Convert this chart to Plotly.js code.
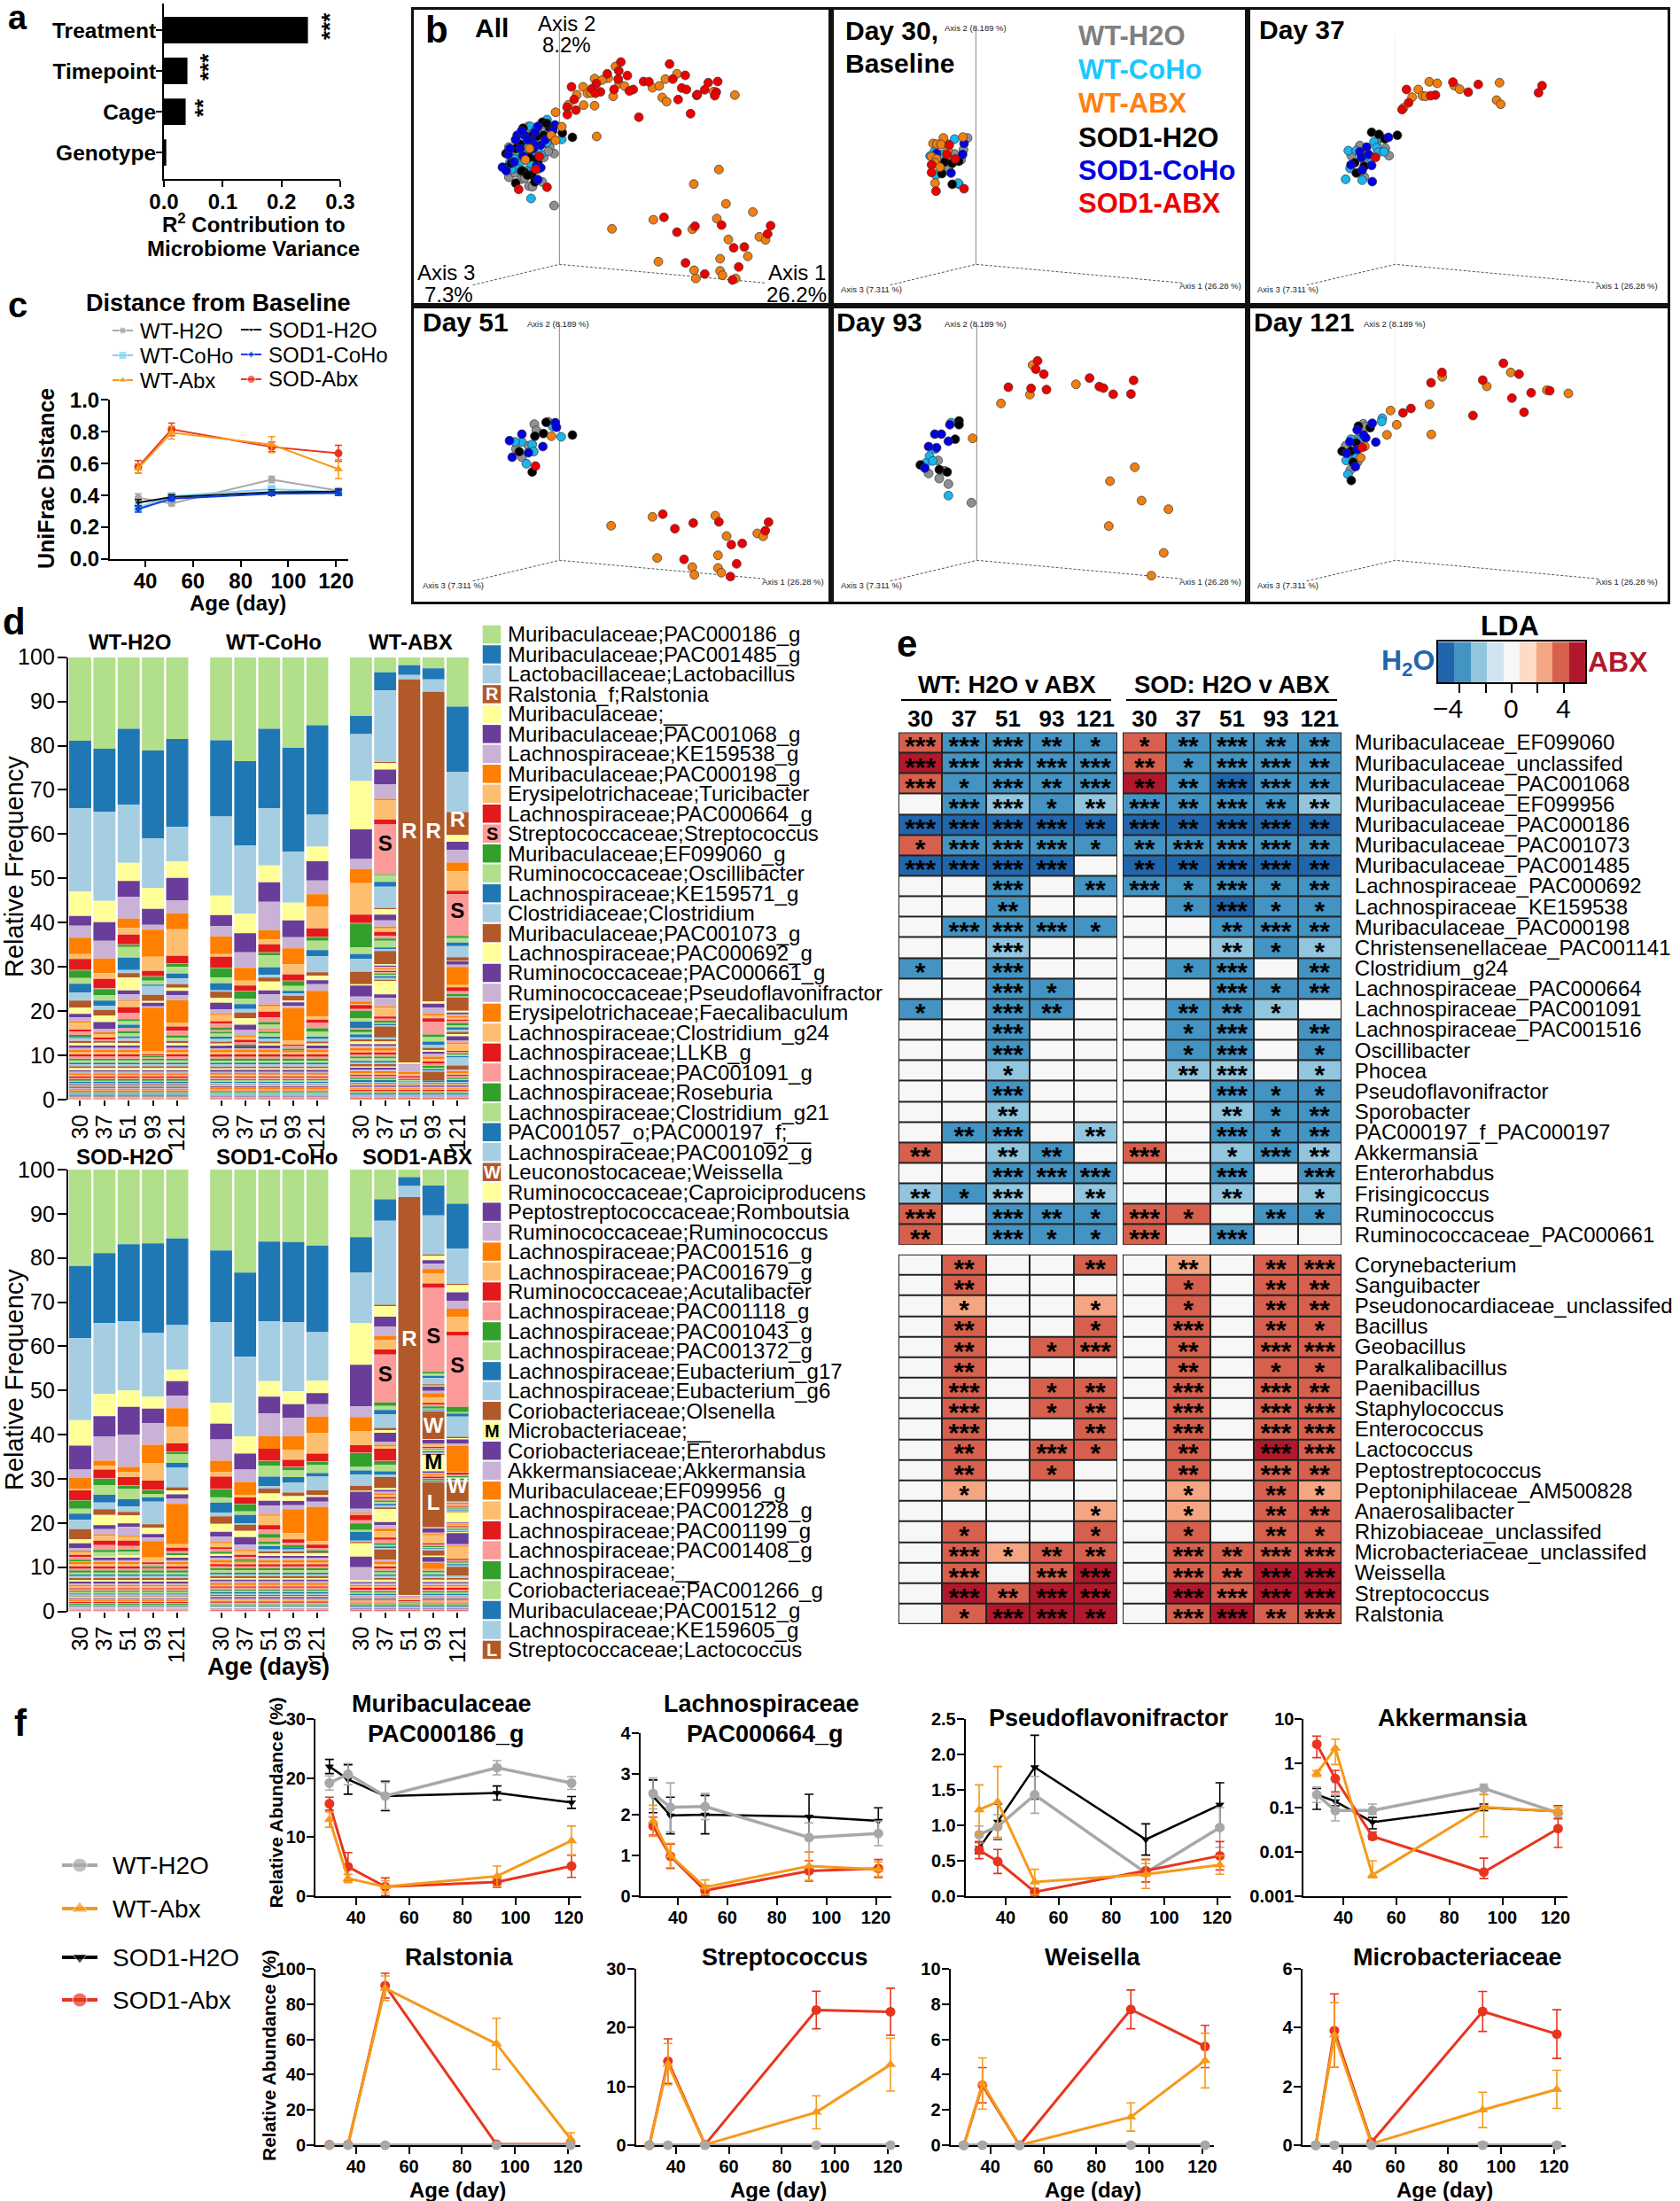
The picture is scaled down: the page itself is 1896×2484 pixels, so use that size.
<!DOCTYPE html>
<html><head><meta charset="utf-8">
<script src="https://cdn.plot.ly/plotly-3.0.1.min.js"></script>
<style>body{margin:0;background:#fff}</style></head>
<body><div id="g" style="width:1896px;height:2484px"></div>
<script>
// ---------- panel a ----------
const aCats=['Treatment','Timepoint','Cage','Genotype'];
const aVals=[0.245,0.040,0.037,0.004];
const aStars=['***','***','**'];
// ---------- panel c ----------
const cDays=[37,51,93,121];
const cWtH2O=[.385,.35,.50,.43], cWtH2OErr=[.025,.015,.02,.015];
const cWtCoHo=[.325,.395,.44,.42], cWtCoHoErr=[.025,.02,.02,.02];
const cWtAbx=[.57,.795,.72,.565], cWtAbxErr=[.03,.04,.05,.06];
const cSodH2O=[.355,.39,.42,.425], cSodH2OErr=[.02,.015,.015,.015];
const cSodCoHo=[.315,.38,.41,.415], cSodCoHoErr=[.02,.015,.01,.015];
const cSodAbx=[.58,.815,.705,.665], cSodAbxErr=[.04,.04,.03,.05];
// ---------- panel b (positions read in each cell's picture units) ----------
const bGroupNames=['WT-H2O','WT-CoHo','SOD1-H2O','SOD1-CoHo','WT-ABX','SOD1-ABX'];
const bColors=['#8f8f8f','#1ab4ef','#000000','#0000e0','#ee7f10','#ee0000'];
const bAll=[
 [[475,663],[475,487],[390,597],[402,599],[435,583],[322,567],[342,552],[365,573],[322,465],[460,465],[358,516],[440,500],[388,395],[450,395],[400,530],[350,500],[345,440],[380,420],[420,410],[455,440],[330,500],[385,500],[345,535],[375,570],[420,540],[455,480],[400,480]],
 [[397,639],[451,372],[501,439],[345,480],[325,518],[360,518],[385,480],[380,545],[430,425],[395,395],[430,490],[405,510],[340,505],[355,540],[390,455],[420,470],[450,450],[370,500],[410,410],[470,405],[330,540],[395,520]],
 [[537,432],[503,417],[312,487],[370,401],[435,381],[415,430],[360,455],[415,505],[375,550],[400,560],[345,587],[410,583],[310,535],[440,425],[330,520],[365,545],[385,560],[395,430],[420,520],[460,400],[390,500],[345,470],[450,385]],
 [[300,533],[313,545],[350,425],[375,425],[400,445],[430,458],[478,390],[420,395],[360,470],[320,490],[410,460],[415,530],[420,575],[470,410],[345,440],[365,410],[385,440],[405,470],[370,495],[395,475],[340,515],[445,440],[410,415],[325,470],[430,535]],
 [[683,192],[612,233],[658,232],[638,238],[573,261],[552,288],[588,283],[600,282],[675,293],[695,250],[714,259],[808,264],[831,258],[852,235],[891,217],[841,297],[856,311],[1015,277],[1087,289],[575,323],[612,325],[523,322],[480,347],[501,396],[619,429],[465,425],[480,442],[392,470],[378,508],[1033,541],[948,590],[1057,657],[1148,685],[811,711],[1026,707],[671,742],[943,743],[1170,769],[1191,779],[1065,778],[1131,835],[1037,843],[828,853],[949,882],[1037,884],[1045,899],[955,910],[1090,910]],
 [[701,177],[694,207],[655,217],[723,223],[692,235],[618,250],[534,261],[603,268],[678,270],[632,278],[615,283],[743,270],[730,275],[778,243],[796,244],[866,184],[919,222],[877,235],[907,265],[923,270],[997,247],[1029,243],[985,271],[1024,279],[1019,291],[958,290],[960,287],[895,304],[937,352],[762,364],[543,304],[519,330],[549,340],[520,355],[847,703],[952,733],[1042,729],[1208,731],[1198,759],[891,753],[1083,806],[1119,803],[920,857],[1100,871],[985,895],[1079,915],[413,540],[355,608],[451,601],[425,497]]
];
const bDay30=[
 [[462,434],[448,474],[440,508],[418,488],[398,510],[378,522],[432,590],[398,535]],
 [[418,438],[395,455],[335,495],[350,480],[355,560],[430,587],[372,490]],
 [[410,591],[375,555],[432,513],[385,515],[410,520]],
 [[450,453],[445,490],[357,487],[406,553]],
 [[380,434],[446,431],[345,453],[358,455],[372,456],[395,476],[340,497],[357,505],[352,518],[368,533],[352,587]],
 [[400,458],[340,525],[340,551],[355,614],[450,606],[420,505],[392,490]]
];
const bDay37=[
 [[380,460],[437,452],[466,469],[479,494],[351,494],[397,515],[395,566]],
 [[445,432],[428,448],[341,477],[368,477],[437,467],[442,483],[462,481],[415,500],[347,537],[332,574],[388,577]],
 [[420,415],[445,422],[465,437],[507,425],[363,518],[368,553],[395,530]],
 [[477,432],[403,465],[380,481],[385,500],[410,490],[420,527],[388,543],[422,582],[350,525]],
 [[615,244],[642,249],[578,270],[700,257],[718,269],[853,247],[843,306],[857,320],[557,296],[592,292],[603,293],[528,332]],
 [[695,245],[781,253],[747,279],[997,257],[985,281],[538,270],[636,289],[620,291],[545,315],[523,338],[433,500]]
];
const bDay51=[
 [[408,401],[455,393],[415,422],[346,485],[388,474],[366,513]],
 [[499,444],[470,409],[366,461],[401,470],[406,494],[381,535],[343,461]],
 [[537,438],[448,395],[410,442],[439,433],[401,563],[357,494]],
 [[479,396],[483,412],[366,435],[324,457],[333,513],[437,477],[388,498]],
 [[668,745],[808,715],[1021,711],[1059,780],[1163,771],[1183,781],[824,854],[1030,845],[943,885],[1030,888],[1041,904],[950,911],[466,442]],
 [[843,706],[946,736],[884,755],[1033,732],[1075,809],[1112,805],[1201,733],[1190,762],[915,859],[1093,874],[1072,917],[412,543]]
];
const bDay93=[
 [[475,667],[397,604],[366,585],[330,568],[362,524],[384,559]],
 [[406,396],[353,485],[333,509],[320,533],[397,643],[344,526]],
 [[433,390],[433,403],[420,452],[302,539],[366,555],[393,563]],
 [[402,403],[351,435],[373,435],[397,459],[330,477],[317,550],[357,481]],
 [[682,201],[673,301],[575,331],[829,266],[479,449],[1028,547],[944,594],[1051,660],[1142,689],[940,746],[1126,837],[1084,914]],
 [[699,187],[693,215],[720,232],[600,276],[677,280],[729,284],[875,245],[908,274],[922,279],[1024,253],[955,300],[1015,299]]
];
const bDay121=[
 [[392,400],[398,410],[332,474],[370,452],[346,507],[372,530],[348,556]],
 [[456,381],[454,392],[350,452],[385,450],[334,524],[366,505],[340,571]],
 [[375,408],[415,413],[368,465],[320,493],[350,492],[357,530],[351,592]],
 [[422,398],[371,421],[393,438],[400,448],[346,461],[434,462],[372,487],[335,500],[365,545]],
 [[891,226],[659,241],[810,273],[1013,286],[1086,297],[616,334],[484,355],[505,403],[472,437],[622,436],[397,476],[383,515]],
 [[866,195],[919,232],[658,226],[621,261],[796,252],[960,295],[1023,288],[895,313],[936,361],[763,372],[553,348],[526,363],[388,480]]
];
// ---------- panel d ----------
const dDays=['30','37','51','93','121'];
const dPalette=['#b2df8a','#1f78b4','#a6cee3','#b15928','#ffff99','#6a3d9a','#cab2d6','#ff7f00','#fdbf6f','#e31a1c','#fb9a99','#33a02c'];
const dTaxa=['Muribaculaceae;PAC000186_g','Muribaculaceae;PAC001485_g','Lactobacillaceae;Lactobacillus','Ralstonia_f;Ralstonia','Muribaculaceae;__','Muribaculaceae;PAC001068_g','Lachnospiraceae;KE159538_g','Muribaculaceae;PAC000198_g','Erysipelotrichaceae;Turicibacter','Lachnospiraceae;PAC000664_g','Streptococcaceae;Streptococcus','Muribaculaceae;EF099060_g','Ruminococcaceae;Oscillibacter','Lachnospiraceae;KE159571_g','Clostridiaceae;Clostridium','Muribaculaceae;PAC001073_g','Lachnospiraceae;PAC000692_g','Ruminococcaceae;PAC000661_g','Ruminococcaceae;Pseudoflavonifractor','Erysipelotrichaceae;Faecalibaculum','Lachnospiraceae;Clostridium_g24','Lachnospiraceae;LLKB_g','Lachnospiraceae;PAC001091_g','Lachnospiraceae;Roseburia','Lachnospiraceae;Clostridium_g21','PAC001057_o;PAC000197_f;__','Lachnospiraceae;PAC001092_g','Leuconostocaceae;Weissella','Ruminococcaceae;Caproiciproducens','Peptostreptococcaceae;Romboutsia','Ruminococcaceae;Ruminococcus','Lachnospiraceae;PAC001516_g','Lachnospiraceae;PAC001679_g','Ruminococcaceae;Acutalibacter','Lachnospiraceae;PAC001118_g','Lachnospiraceae;PAC001043_g','Lachnospiraceae;PAC001372_g','Lachnospiraceae;Eubacterium_g17','Lachnospiraceae;Eubacterium_g6','Coriobacteriaceae;Olsenella','Microbacteriaceae;__','Coriobacteriaceae;Enterorhabdus','Akkermansiaceae;Akkermansia','Muribaculaceae;EF099956_g','Lachnospiraceae;PAC001228_g','Lachnospiraceae;PAC001199_g','Lachnospiraceae;PAC001408_g','Lachnospiraceae;__','Coriobacteriaceae;PAC001266_g','Muribaculaceae;PAC001512_g','Lachnospiraceae;KE159605_g','Streptococcaceae;Lactococcus'];
const dTags={3:['R','#fff'],10:['S','#000'],27:['W','#fff'],40:['M','#000'],51:['L','#fff']};
const dWtH2O=[
 [18.9,15.2,18.9,0,5.5,2.2,2.7,3.7,1.1,2.5,.1,1.7,1.3,2,1.8,1.6,1.4,.8,.9,.3,1.6,.4,.8,.5],
 [20.7,14.2,20.2,0,4.8,4.2,4,3.3,1.3,2.1,.2,1.4,1.2,1.2,.9,1.3,1.5,1.5,.8,.4,.8,.4,.4,.3],
 [16.2,17.1,13.2,0,4.1,3.6,4.9,2.1,1.5,2.2,.1,.5,2.4,2.8,.7,1,2.9,.9,1.4,.2,1.3,1.3,1.4,.5,.8,.8],
 [21.1,19.8,11.3,0,4.7,3.6,1.1,6.1,3.2,1.2,.1,.9,.9,.3,2,1.4,.4,.8,.3,9.8,.8,.2,.2,.2],
 [18.5,19.8,7.8,0,3.8,5.1,2.9,3.6,6,1.7,.1,.7,1.5,1.1,1.3,.8,.7,1,1.1,5.2,.8,.9,1.1,.5,.6]];
const dWtCoHo=[
 [18.8,17.2,17.9,0,4.4,2.5,2.3,4,.6,2.5,.1,2.1,1.3,1.6,.3,1.4,1.1,1.5,1,.3,1.4,.5,.9,.6],
 [23.5,19,15.5,0,4.4,4.3,3.5,2.9,1.1,1.2,.1,1.7,1.2,1.1,.8,1.3,1.5,1.2,1.2,.3,.7,.5,.6,.4],
 [16.2,17.9,13,0,3.8,4.4,6.4,2.1,1.1,1.8,.1,.6,2.7,1.7,.6,.9,2,.9,2.3,.4,1.2,1.3,1.1,.6,.8],
 [20.5,23.4,11.6,0,4,3.8,2.5,3.6,2.3,1.4,.1,1.1,1.1,.6,.5,1.1,.4,.8,.5,7.4,.9,.3,.6,.4],
 [15.4,20.2,7.2,0,3.3,4.4,3.1,2.8,4.9,1.9,.1,.8,2.1,1.4,3.6,.8,1,.9,1.5,5.8,.7,.8,1.2,.8,.9]];
const dWtAbx=[
 [13.3,4.1,10.6,0,10.9,6.7,2.3,3.2,7.1,1.9,.1,5.4,1.5,1.1,2.9,2.8,.3,2.5,1.1,.6,.2,.9,.4,1.7,.8,1.5],
 [3.4,4.1,16.2,.2,1.5,3.3,3.3,.3,4.4,1.1,11.3,.2,1.5,1.1,4.8,.3,1.2,1.3,1.4,.4,.8,.9,.6,.5,1.5,.4,.4,3,.3,.3,.3,.3,.3,.3,.3,.3,.3,.4,.4,.3,3,.8,1.9,.3,2,.5,.5,.4,.3,.3,.3,2.3],
 [1.8,2.2,1,86.6,.4,.1,1.7,.5,.4,.3,.4,.2,.3,.2,.3],
 [2.5,2.5,2.8,70,.5,.9,1.4,.4,.6,.8,2.9,.6,1,.8,.6,.5,.4,.5,.6,.6,.5,.5,.5,.4,.3,.3,.3,2],
 [11.2,14.7,9.1,5.2,1.5,1.8,2.9,2,4.4,.8,9.4,.5,1,.8,2.5,.8,.1,.8,.5,4.1,.5,.9,.6,.5,.1,.1,.1,3,.4,.4,.4,.4,.4,.4,.4,.5,.5,.5,.5,.5,.5,1,.4,.4,1.5,.3,.3,.3,.3,.3,1.8,1]];
const dSodH2O=[
 [21.8,16.3,18.6,0,5.8,5.4,1.8,2.5,.4,2.2,.1,1.9,1.1,1.4,2.1,2.3,.9,1.1,.6,.4,.5,.5,.6,.4],
 [18.9,15.8,16.1,0,5,4.6,5.5,1.2,.8,2,.1,1.4,2.2,1.8,1.5,1.3,2.3,.9,1.2,.3,1.1,1,1.1,.5,1],
 [16.9,17.4,15.7,0,3.7,6.3,7.3,1.2,1.1,1.9,.1,.7,2.3,1.7,1.2,.8,1.8,.8,2,.3,.8,1.2,.8,.5,.8],
 [16.7,20.3,14.4,0,2.7,3.3,4.9,4.1,4,2.1,.1,.8,.8,1,5.1,.8,1.4,.8,.8,3.7,1.1,.4,.5,.4],
 [15.6,19.6,10.1,0,2.6,3.3,2.8,4.2,3.8,1.8,.1,.5,2,1.1,4.4,.7,.9,1,1.2,9.1,.8,.8,.4,.5]];
const dSodCoHo=[
 [18.3,16.2,18.3,0,4.7,3.6,4.8,2.6,1,2.8,.1,1.8,1.2,2.3,.8,1.7,1.8,1.1,1.2,.3,.9,.4,.6,.5],
 [23.3,19.1,18,0,3.9,3.6,2.8,2.9,.6,1.5,.1,1.6,.8,1.9,.3,1.4,1.4,1.7,1.2,.3,.8,.5,.5,.4],
 [16.3,18,13.6,0,3.5,3.8,5.1,2.9,0,2.7,.1,1,2.5,2.1,.6,1.1,1.7,1.1,2,.3,2.1,1,1,.8],
 [16.4,18.1,15.7,0,2.9,3.1,4.2,3.1,2.2,1.6,.1,.7,1.5,1.2,2.3,.8,1.1,1,.9,5.4,1.4,.8,.5,.5],
 [17.2,19.6,11,0,2.8,2.5,2.8,3.7,4.7,1.8,.1,.7,1.8,.8,3.1,1.1,.4,1.1,1.2,7.7,.8,.8,.5,.5]];
const dSodAbx=[
 [15.3,8,11.4,0,9.5,9.4,2.4,3.3,3.1,1.7,.1,3.1,.8,.9,2.6,1.1,.2,3.9,.9,.3,.2,1.2,.7,1.5,.4,2,.3,.3,3,2.4,3],
 [6.7,4.9,19,.3,2.4,2.2,2.2,.9,2.1,1.2,10.8,.8,.9,1,3.1,.5,.6,2,.7,.4,.5,2.7,.1,.8,1.5,.8,.5,2.5,.4,.4,.4,.4,.4,.4,.4,.4,.4,.4,.4,.4,2.9,.7,.8,.6,1.4,.5,.8,.4,.3,.4,.3,2.3],
 [1.7,2,2.5,90.1,.3,.1,.3,.2,.3,.2,.3,.2],
 [3.6,6.8,8.8,.3,1,.8,1.2,1,2.3,1,19,.4,.5,.5,1.4,.3,.2,1,.5,1,1.2,.4,.4,.5,.2,.2,.2,6.3,.2,.8,.3,.2,.3,.2,.3,.2,.3,.3,.3,.2,3.7,.3,.3,.3,.3,.3,.2,.2,.2,.2,.2,10.2,.2,1,.3,.3,1.8,.3,.3,.3,.2,.2,.3,1.2,.3,1.1,.2,1.4],
 [7.7,10.2,8,.2,1.7,1.9,1.8,1.8,3.4,.9,16.1,1.2,.3,.7,4.6,.3,.3,.9,.6,5.8,.2,.5,.3,.3,.3,.3,.4,4.5,.2,.2,.2,.2,.2,.2,.2,.2,.2,.2,.2,.2,2.3,.2,.2,.2,.2,.2,.2,.2,.2,.2,.2,.2,.2,2.5,.3,.3,2.7,.3,.3,.3,.3,.3,.3,2.1]];
const dTailA=[.1,.1,.1,.1,.1,.1,.15,.1,.15,.1,.2,.15,.2,.2,.15,.2,.25,.2,.3,.2,.25,.3,.3,.25,.35,.3,.4,.3,.35,.4,.3,.5,.4,.45,.35,.5,.4,.5,.45,.5,.6,.4,.5,.6,.5,.6,.4,.7,.5,.6];
const dTailB=[.1,.15,.1,.1,.1,.15,.1,.1,.1,.15,.15,.2,.25,.15,.2,.2,.3,.15,.25,.25,.2,.35,.25,.3,.3,.35,.25,.4,.35,.3,.45,.35,.4,.5,.35,.45,.5,.4,.55,.45,.5,.4,.6,.5,.45,.6,.5,.7,.4,.6];
const dTailC=[.1,.1,.15,.1,.1,.1,.1,.15,.1,.15,.25,.2,.15,.2,.3,.2,.2,.25,.35,.2,.3,.25,.4,.25,.3,.4,.3,.3,.5,.35,.4,.3,.5,.4,.35,.6,.4,.45,.5,.35,.6,.5,.4,.6,.5,.4,.7,.5,.6,.5];
const dLetters=[
 {g:2,day:'37',v:57.5,t:'S',c:'#000'},{g:2,day:'51',v:60.2,t:'R',c:'#fff'},{g:2,day:'93',v:60.2,t:'R',c:'#fff'},{g:2,day:'121',v:62.8,t:'R',c:'#fff'},{g:2,day:'121',v:42.3,t:'S',c:'#000'},
 {g:5,day:'37',v:53.2,t:'S',c:'#000'},{g:5,day:'51',v:61.2,t:'R',c:'#fff'},{g:5,day:'93',v:61.9,t:'S',c:'#000'},{g:5,day:'93',v:41.7,t:'W',c:'#fff'},{g:5,day:'93',v:33.5,t:'M',c:'#000'},{g:5,day:'93',v:24.2,t:'L',c:'#fff'},{g:5,day:'121',v:55.3,t:'S',c:'#000'},{g:5,day:'121',v:27.9,t:'W',c:'#fff'}];
// ---------- panel e ----------
const eCols=['30','37','51','93','121'];
const eUpperNames=['Muribaculaceae_EF099060','Muribaculaceae_unclassifed','Muribaculaceae_PAC001068','Muribaculaceae_EF099956','Muribaculaceae_PAC000186','Muribaculaceae_PAC001073','Muribaculaceae_PAC001485','Lachnospiraceae_PAC000692','Lachnospiraceae_KE159538','Muribaculaceae_PAC000198','Christensenellaceae_PAC001141','Clostridium_g24','Lachnospiraceae_PAC000664','Lachnospiraceae_PAC001091','Lachnospiraceae_PAC001516','Oscillibacter','Phocea','Pseudoflavonifractor','Sporobacter','PAC000197_f_PAC000197','Akkermansia','Enterorhabdus','Frisingicoccus','Ruminococcus','Ruminococcaceae_PAC000661'];
const eUpperLda=[
[2,-2,-2,-2,-2,2,-2,-2,-2,-2],[3,-2,-2,-2,-2,2,-2,-2,-2,-2],[2,-2,-2,-2,-2,3,-2,-3,-2,-2],[0,-2,-1,-2,-1,-2,-2,-2,-2,-1],[-3,-3,-3,-3,-3,-3,-3,-3,-3,-3],
[2,-2,-2,-2,-2,-2,-2,-2,-2,-2],[-3,-3,-3,-3,0,-3,-3,-3,-3,-3],[0,0,-2,0,-2,-2,-2,-2,-2,-2],[0,0,-2,0,0,0,-2,-3,-2,-2],[0,-2,-2,-2,-2,0,0,-2,-2,-2],
[0,0,-1,0,0,0,0,-1,-2,-1],[-2,0,-2,0,0,0,-2,-2,0,-2],[0,0,-2,-2,0,0,0,-2,-2,-2],[-2,0,-2,-2,0,0,-2,-2,-1,0],[0,0,-2,0,0,0,-2,-2,0,-2],
[0,0,-2,0,0,0,-2,-2,0,-2],[0,0,-1,0,0,0,-1,-1,0,-1],[0,0,-2,0,0,0,0,-2,-2,-2],[0,0,-1,0,0,0,0,-1,-2,-2],[0,-2,-2,0,-1,0,0,-2,-2,-2],
[2,0,-1,-2,0,2,0,-1,-2,-1],[0,0,-2,-2,-2,0,0,-2,0,-2],[-1,-2,-1,0,-1,0,0,-1,0,-1],[2,0,-2,-2,-2,2,2,0,-2,-2],[2,0,-2,-2,-2,2,0,-2,0,0]];
const eUpperStars=[
[3,3,3,2,1,1,2,3,2,2],[3,3,3,3,3,2,1,3,3,2],[3,1,3,2,3,2,2,3,3,2],[0,3,3,1,2,3,2,3,2,2],[3,3,3,3,2,3,2,3,3,2],
[1,3,3,3,1,2,3,3,3,2],[3,3,3,3,0,2,2,3,3,2],[0,0,3,0,2,3,1,3,1,2],[0,0,2,0,0,0,1,3,1,1],[0,3,3,3,1,0,0,2,3,2],
[0,0,3,0,0,0,0,2,1,1],[1,0,3,0,0,0,1,3,0,2],[0,0,3,1,0,0,0,3,1,2],[1,0,3,2,0,0,2,2,1,0],[0,0,3,0,0,0,1,3,0,2],
[0,0,3,0,0,0,1,3,0,1],[0,0,1,0,0,0,2,3,0,1],[0,0,3,0,0,0,0,3,1,1],[0,0,2,0,0,0,0,2,1,2],[0,2,3,0,2,0,0,3,1,2],
[2,0,2,2,0,3,0,1,3,2],[0,0,3,3,3,0,0,3,0,3],[2,1,3,0,2,0,0,2,0,1],[3,0,3,2,1,3,1,0,2,1],[2,0,3,1,1,3,0,3,0,0]];
const eLowerNames=['Corynebacterium','Sanguibacter','Pseudonocardiaceae_unclassifed','Bacillus','Geobacillus','Paralkalibacillus','Paenibacillus','Staphylococcus','Enterococcus','Lactococcus','Peptostreptococcus','Peptoniphilaceae_AM500828','Anaerosalibacter','Rhizobiaceae_unclassifed','Microbacteriaceae_unclassifed','Weissella','Streptococcus','Ralstonia'];
const eLowerLda=[
[0,2,0,0,2,0,1,0,2,2],[0,2,0,0,0,0,2,0,2,2],[0,1,0,0,1,0,2,0,2,2],[0,2,0,0,2,0,2,0,2,2],[0,2,0,2,2,0,2,0,2,2],[0,2,0,0,0,0,2,0,2,2],
[0,2,0,2,2,0,2,0,2,2],[0,2,0,2,2,0,2,0,2,2],[0,2,0,0,2,0,2,0,2,2],[0,2,0,2,2,0,2,0,3,2],[0,2,0,2,0,0,2,0,2,2],[0,1,0,0,0,0,1,0,2,1],
[0,0,0,0,1,0,1,0,2,2],[0,2,0,0,2,0,2,0,2,2],[0,2,1,2,2,0,2,2,2,2],[0,2,0,2,3,0,2,2,3,3],[0,3,2,3,3,0,3,2,3,3],[0,2,3,3,3,0,2,3,2,2]];
const eLowerStars=[
[0,2,0,0,2,0,2,0,2,3],[0,2,0,0,0,0,1,0,2,2],[0,1,0,0,1,0,1,0,2,2],[0,2,0,0,1,0,3,0,2,1],[0,2,0,1,3,0,2,0,3,3],[0,2,0,0,0,0,2,0,1,1],
[0,3,0,1,2,0,3,0,3,2],[0,3,0,1,2,0,3,0,3,3],[0,3,0,0,2,0,3,0,3,3],[0,2,0,3,1,0,2,0,3,3],[0,2,0,1,0,0,2,0,3,2],[0,1,0,0,0,0,1,0,2,1],
[0,0,0,0,1,0,1,0,2,2],[0,1,0,0,1,0,1,0,2,1],[0,3,1,2,2,0,3,2,3,3],[0,3,0,3,3,0,3,2,3,3],[0,3,2,3,3,0,3,3,3,3],[0,1,3,3,2,0,3,3,2,3]];
const eScale=['#2166ac','#4393c3','#92c5de','#f7f7f7','#f4a582','#d6604d','#b2182b'];
const eBarColors=['#2166ac','#4393c3','#92c5de','#d1e5f0','#f7f7f7','#fddbc7','#f4a582','#d6604d','#b2182b'];
const eBarX=[-5.03,-3.77,-2.52,-1.26,0,1.26,2.52,3.77,5.03];
// ---------- panel f ----------
const fDays=[30,37,51,93,121];
const fGroups=['SOD1-H2O','WT-H2O','SOD1-Abx','WT-Abx'];
const fMuriSod=[22,19.8,17,17.5,15.9],fMuriSodE=[1.2,2.5,2.5,1.2,1];
const fMuriWt=[19.2,20.7,17,21.8,19.2],fMuriWtE=[1.2,1.8,2.3,1.2,1.1];
const fMuriSodA=[15.7,5,1.6,2.4,5.1],fMuriSodAE=[1.1,2.4,1.5,.9,1.9];
const fMuriWtA=[13,3,1.6,3.4,9.4],fMuriWtAE=[1.3,.7,1,1.7,2.5];
const fLachSod=[2.45,1.98,2,1.95,1.85],fLachSodE=[.4,.45,.47,.55,.32];
const fLachWt=[2.52,2.18,2.2,1.44,1.54],fLachWtE=[.38,.6,.32,.36,.3];
const fLachSodA=[1.72,.98,.14,.62,.68],fLachSodAE=[.22,.3,.12,.25,.22];
const fLachWtA=[1.85,1,.22,.74,.66],fLachWtAE=[.38,.3,.18,.35,.18];
const fPseuSod=[.68,1.05,1.82,.8,1.29],fPseuSodE=[.08,.25,.45,.22,.31];
const fPseuWt=[.87,.98,1.43,.33,.97],fPseuWtE=[.12,.17,.26,.13,.28];
const fPseuSodA=[.65,.49,.06,.36,.57],fPseuSodAE=[.12,.17,.05,.16,.2];
const fPseuWtA=[1.22,1.33,.2,.31,.44],fPseuWtAE=[.35,.5,.18,.2,.13];
const fAkkSod=[.196,.138,.047,.1,.082],fAkkSodHi=[.27,.18,.06,.12,.11],fAkkSodLo=[.091,.11,.033,.085,.07];
const fAkkWt=[.196,.086,.086,.27,.076],fAkkWtHi=[.29,.2,.12,.34,.1],fAkkWtLo=[.13,.05,.07,.2,.06];
const fAkkSodA=[2.7,.45,.0224,.0035,.0336],fAkkSodAHi=[4.1,.69,.028,.0072,.056],fAkkSodALo=[1.34,.225,.019,.0025,.0126];
const fAkkWtA=[.59,2.19,.003,.102,.082],fAkkWtAHi=[.68,3.5,.0063,.196,.107],fAkkWtALo=[.5,.94,.0026,.022,.07];
const fRalSodA=[.3,.3,90.5,.5,.5],fRalSodAE=[.5,.5,7,.3,.3];
const fRalWtA=[.3,.3,89,57.5,3.5],fRalWtAE=[.8,.3,7,14.5,3.5];
const fStrSodA=[0,14.3,.1,23,22.7],fStrSodAE=[0,3.8,0,3.2,4];
const fStrWtA=[0,13.8,.1,5.6,13.7],fStrWtAE=[.3,3.5,.3,2.8,4.5];
const fWeiSodA=[0,3.4,0,7.7,5.6],fWeiSodAE=[0,1,0,1.1,1.2];
const fWeiWtA=[0,3.5,0,1.6,4.8],fWeiWtAE=[.1,1.45,.1,.8,1.55];
const fMicSodA=[0,3.9,.1,4.55,3.78],fMicSodAE=[0,1.25,0,.68,.83];
const fMicWtA=[0,3.75,.05,1.2,1.9],fMicWtAE=[.05,1.1,.05,.6,.65];
const fZero=[0,0,0,0,0], fZeroE=[.1,.1,.1,.1,.1];

// ---------- helpers ----------
const W=1896,H=2484,FONT='"Liberation Sans", Arial, sans-serif';
const data=[],annotations=[],shapes=[],layout={};
let axN=0;
function addAxes(r,xo,yo){ // r=[x0,y0,x1,y1] in page pixels
  axN++; const s=axN===1?'':axN;
  layout['xaxis'+s]=Object.assign({domain:[r[0]/W,r[2]/W],anchor:'y'+s,showgrid:false,zeroline:false,fixedrange:true},xo);
  layout['yaxis'+s]=Object.assign({domain:[1-r[3]/H,1-r[1]/H],anchor:'x'+s,showgrid:false,zeroline:false,fixedrange:true},yo);
  return {xaxis:'x'+s,yaxis:'y'+s};
}
function txt(x,y,t,o={}){
  annotations.push({xref:'paper',yref:'paper',x:x/W,y:1-y/H,text:o.bold?'<b>'+t+'</b>':t,showarrow:false,
    xanchor:o.anchor||'center',yanchor:'middle',textangle:o.angle||0,borderpad:0,
    font:{family:FONT,size:o.size||24,color:o.color||'#000'}});
}
const line=(o)=>Object.assign({showline:true,linecolor:'#000',linewidth:2,ticks:'outside',ticklen:8,tickwidth:2,tickcolor:'#000',ticklabelstandoff:-3},o);
const bf=(s)=>({family:FONT,size:s,weight:700,color:'#000'});
const rf=(s)=>({family:FONT,size:s,color:'#000'});
const hid={visible:false};

// panel a
{
  const a=addAxes([185,3.5,384,201.6],
    line({range:[0,.3],tickvals:[0,.1,.2,.3],tickformat:'.1f',tickfont:bf(24),ticklen:7}),
    line({type:'category',categoryorder:'array',categoryarray:aCats,range:[3.64,-.663],tickfont:bf(24.5),ticklen:7,ticklabelstandoff:-5}));
  data.push(Object.assign({type:'bar',orientation:'h',y:aCats,x:aVals,width:.65,marker:{color:'#000'},hoverinfo:'skip'},a));
  [[372,30,0],[235,76,1],[229,122,2]].forEach(p=>txt(p[0],p[1],aStars[p[2]],{size:26,angle:-90,bold:true}));
  txt(20,20,'a',{size:38,bold:true});
  txt(286,252,'R<sup>2</sup> Contribution to',{size:24,bold:true});
  txt(286,280,'Microbiome Variance',{size:24,bold:true});
}
// panel c
{
  const a=addAxes([124,451.4,392.7,631],
    line({range:[25.1,125],tickvals:[40,60,80,100,120],tickfont:bf(24),ticklen:7,ticklabelstandoff:-5}),
    line({range:[0,1],tickvals:[0,.2,.4,.6,.8,1],tickformat:'.1f',tickfont:bf(24)}));
  const st=[['WT-H2O',cWtH2O,cWtH2OErr,'#a8a8a8','circle',8],['WT-CoHo',cWtCoHo,cWtCoHoErr,'#7fd2f7','square',9],['SOD1-H2O',cSodH2O,cSodH2OErr,'#111','triangle-down',6],['SOD1-CoHo',cSodCoHo,cSodCoHoErr,'#0a3fe0','diamond',6],['SOD-Abx',cSodAbx,cSodAbxErr,'#e8351e','circle',9],['WT-Abx',cWtAbx,cWtAbxErr,'#f59a1b','triangle-up',9]];
  st.forEach(s=>data.push(Object.assign({type:'scatter',mode:'lines+markers',x:cDays,y:s[1],name:s[0],cliponaxis:false,
     error_y:{type:'data',array:s[2],color:s[3],thickness:1.5,width:4},line:{color:s[3],width:2},marker:{color:s[3],symbol:s[4],size:s[5]},hoverinfo:'skip'},a)));
  const lg=addAxes([120,355,310,445],Object.assign({},hid,{range:[120,310]}),Object.assign({},hid,{range:[445,355]}));
  const rows=[['WT-H2O',127,373,0],['WT-CoHo',127,401,1],['WT-Abx',127,429,5],['SOD1-H2O',272,372,2],['SOD1-CoHo',272,400,3],['SOD-Abx',272,428,4]];
  rows.forEach(r=>{const s=st[r[3]];
    data.push(Object.assign({type:'scatter',mode:'lines+markers',x:[r[1],r[1]+11.5,r[1]+23],y:[r[2],r[2],r[2]],line:{color:s[3],width:2},marker:{color:s[3],symbol:s[4],size:[0,s[5],0]},hoverinfo:'skip'},lg));
    txt(r[1]+30,r[2],r[0],{size:24,anchor:'left'});});
  txt(20,344,'c',{size:40,bold:true});
  txt(246,342,'Distance from Baseline',{size:27,bold:true});
  txt(52,540,'UniFrac Distance',{size:25,bold:true,angle:-90});
  txt(268,680,'Age (day)',{size:24,bold:true});
}
// panel b
{
  const cells=[[467,11,bAll],[938,11,bDay30],[1408,11,bDay37],[467,345,bDay51],[938,345,bDay93],[1408,345,bDay121]];
  const origin=[493,490,500,493,493,500], axisTop=[70,62,85,62,62,70], axisCol=['#888','#888','#eee','#888','#888','#eee'];
  const frame={showline:true,mirror:true,linecolor:'#111',linewidth:3,ticks:'',showticklabels:false};
  cells.forEach((c,k)=>{
    const w=c[0]===1408?474:(c[0]===938?470:471);
    const a=addAxes([c[0],c[1],c[0]+w,c[1]+334],Object.assign({range:[0,w*3]},frame),Object.assign({range:[1002,0]},frame));
    const o=origin[k];
    data.push(Object.assign({type:'scatter',mode:'lines',x:[o,o],y:[axisTop[k],862],line:{color:axisCol[k],width:1},hoverinfo:'skip'},a));
    data.push(Object.assign({type:'scatter',mode:'lines',x:[200,o,1190],y:[932,862,925],line:{color:'#555',width:1,dash:'3px,2px'},hoverinfo:'skip'},a));
    c[2].forEach((pts,g)=>data.push(Object.assign({type:'scatter',mode:'markers',name:bGroupNames[g],x:pts.map(p=>p[0]),y:pts.map(p=>p[1]),cliponaxis:false,
       marker:{color:bColors[g],size:10,line:{color:'#333',width:.7}},hoverinfo:'skip'},a)));
    const X=v=>c[0]+v/3,Y=v=>c[1]+v/3;
    if(k>0){
      if(k!==2) txt(X(490+(k===5?8:0)),Y(62),'Axis 2 (8.189 %)',{size:9.5,color:'#222'});
      txt(X(135),Y(945),'Axis 3 (7.311 %)',{size:9.5,color:'#222'});
      txt(X(1285),Y(933),'Axis 1 (26.28 %)',{size:9.5,color:'#222'});
    }
  });
  const cx=(i,v)=>[467,938,1408][i]+v/3, cy=(i,v)=>[11,345][i]+v/3;
  txt(cx(0,78),cy(0,68),'b',{size:42,bold:true});
  txt(cx(0,205),cy(0,62),'All',{size:30,bold:true,anchor:'left'});
  txt(cx(0,518),cy(0,45),'Axis 2',{size:24});txt(cx(0,518),cy(0,120),'8.2%',{size:24});
  txt(cx(0,110),cy(0,888),'Axis 3',{size:24});txt(cx(0,120),cy(0,965),'7.3%',{size:24});
  txt(cx(0,1297),cy(0,888),'Axis 1',{size:24});txt(cx(0,1297),cy(0,965),'26.2%',{size:24});
  txt(cx(1,45),cy(0,70),'Day 30,',{size:30,bold:true,anchor:'left'});
  txt(cx(1,45),cy(0,182),'Baseline',{size:30,bold:true,anchor:'left'});
  txt(cx(2,35),cy(0,68),'Day 37',{size:30,bold:true,anchor:'left'});
  txt(cx(0,28),cy(1,57),'Day 51',{size:30,bold:true,anchor:'left'});
  txt(cx(1,15),cy(1,57),'Day 93',{size:30,bold:true,anchor:'left'});
  txt(cx(2,18),cy(1,57),'Day 121',{size:30,bold:true,anchor:'left'});
  const names=['WT-H2O','WT-CoHo','WT-ABX','SOD1-H2O','SOD1-CoHo','SOD1-ABX'],cols=['#7f7f7f','#1cc7ff','#ff8010','#000','#0000e0','#ee0000'],ys=[90,203,317,432,545,655];
  names.forEach((n,i)=>txt(cx(1,835),cy(0,ys[i]),n,{size:31,bold:true,color:cols[i],anchor:'left'}));
}
// panel d
{
  function bar(head,tail){
    const segs=[];let cum=0;
    head.forEach((v,i)=>{segs.push([100-cum-v,v,dPalette[i%12]]);cum+=v;});
    let rest=100-cum,b=0,k=0;
    while(rest>1e-6){
      const t=Math.min(tail[k%tail.length],rest);
      segs.push([b,t,dPalette[11-k%12]]);
      b+=t;rest-=t;k++;
    }
    return segs;
  }
  const groups=[[dWtH2O,dTailA,'WT-H2O',76.8,213.7,741.7,1241,146.7,725],[dWtCoHo,dTailB,'WT-CoHo',236,371.7,741.7,1241,309,725],[dWtAbx,dTailC,'WT-ABX',393.8,530,741.7,1241,463.6,725],
                [dSodH2O,dTailB,'SOD-H2O',76.8,213.7,1320,1818.5,140,1305],[dSodCoHo,dTailC,'SOD1-CoHo',236,371.7,1320,1818.5,312.5,1305],[dSodAbx,dTailA,'SOD1-ABX',393.8,530,1320,1818.5,470.7,1305]];
  groups.forEach((g,gi)=>{
    const firstCol=gi%3===0;
    const a=addAxes([g[3],g[5],g[4],g[6]],
      {type:'category',categoryorder:'array',categoryarray:dDays,range:[-.5,4.5],tickmode:'array',tickvals:dDays,ticktext:dDays,ticks:'outside',ticklen:6,tickwidth:2,tickcolor:'#000',tickangle:-90,tickfont:rf(25),showline:false},
      firstCol?line({range:[0,100],tickvals:[0,10,20,30,40,50,60,70,80,90,100],ticklen:10,tickfont:rf(25),ticklabelstandoff:-2}):{range:[0,100],visible:false});
    const X=[],Y=[],B=[],C=[];
    g[0].forEach((h,i)=>bar(h,g[1]).forEach(s=>{X.push(dDays[i]);B.push(s[0]);Y.push(s[1]);C.push(s[2]);}));
    data.push(Object.assign({type:'bar',x:X,y:Y,base:B,width:.91,marker:{color:C,line:{width:0}},hoverinfo:'skip'},a));
    const L=dLetters.filter(l=>l.g===gi);
    if(L.length) data.push(Object.assign({type:'scatter',mode:'text',x:L.map(l=>l.day),y:L.map(l=>l.v),text:L.map(l=>l.t),textposition:'middle center',
       textfont:{family:FONT,size:24,weight:700,color:L.map(l=>l.c)},hoverinfo:'skip'},a));
    txt(g[7],g[8],g[2],{size:24,bold:true});
  });
  const lg=addAxes([545,704.8,565,1873.2],Object.assign({},hid,{range:[-1,1]}),Object.assign({},hid,{range:[51.5,-.5]}));
  data.push(Object.assign({type:'scatter',mode:'markers',x:dTaxa.map(()=>0),y:dTaxa.map((_,i)=>i),cliponaxis:false,
     marker:{symbol:'square',size:20.5,color:dTaxa.map((_,i)=>dPalette[i%12])},hoverinfo:'skip'},lg));
  dTaxa.forEach((t,i)=>{
    const y=716+22.47*i;
    txt(572,y,t,{size:24,anchor:'left'});
    if(dTags[i]) txt(555,y,dTags[i][0],{size:20,bold:true,color:dTags[i][1]});
  });
  txt(16,978,'Relative Frequency',{size:29,angle:-90});
  txt(16,1557,'Relative Frequency',{size:29,angle:-90});
  txt(303,1881,'Age (days)',{size:27,bold:true});
  txt(16,702,'d',{size:42,bold:true});
}
// panel e
{
  const stepScale=[];eScale.forEach((c,i)=>{stepScale.push([i/7,c],[(i+1)/7,c]);});
  var STAR_SHIFT=7;
  function block(rect,names,lda,stars,from,showCols,showNames){
    shapes.push({type:'rect',xref:'paper',yref:'paper',x0:rect[0]/W,x1:rect[2]/W,y0:1-rect[3]/H,y1:1-rect[1]/H,fillcolor:'#222',line:{width:0},layer:'below'});
    const n=names.length,idx=[0,1,2,3,4];
    const a=addAxes(rect,
      showCols?{range:[-.5,4.5],side:'top',tickvals:idx,ticktext:eCols,ticks:'',tickfont:bf(26),showline:false}:{range:[-.5,4.5],visible:false},
      showNames?{range:[n-.5,-.5],side:'right',tickvals:names.map((_,i)=>i),ticktext:names,ticks:'outside',ticklen:9,tickcolor:'rgba(0,0,0,0)',tickfont:rf(24),showline:false}:{range:[n-.5,-.5],visible:false});
    data.push(Object.assign({type:'heatmap',x:idx,y:names.map((_,i)=>i),z:lda.map(r=>r.slice(from,from+5)),zmin:-3.5,zmax:3.5,colorscale:stepScale,showscale:false,xgap:2,ygap:2,hoverinfo:'skip'},a));
    const sa=addAxes([rect[0],rect[1]+STAR_SHIFT,rect[2],rect[3]+STAR_SHIFT],{range:[-.5,4.5],visible:false},{range:[n-.5,-.5],visible:false});
    const X=[],Y=[],T=[];
    stars.forEach((r,i)=>r.slice(from,from+5).forEach((s,j)=>{if(s){X.push(j);Y.push(i);T.push('*'.repeat(s));}}));
    data.push(Object.assign({type:'scatter',mode:'text',x:X,y:Y,text:T,textposition:'middle center',cliponaxis:false,textfont:{family:FONT,size:30,weight:700,color:'#000'},hoverinfo:'skip'},sa));
  }
  block([1014,826.4,1261,1405],eUpperNames,eUpperLda,eUpperStars,0,true,false);
  block([1267,826.4,1514,1405],eUpperNames,eUpperLda,eUpperStars,5,true,true);
  block([1014,1415.7,1261,1833],eLowerNames,eLowerLda,eLowerStars,0,false,false);
  block([1267,1415.7,1514,1833],eLowerNames,eLowerLda,eLowerStars,5,false,true);
  txt(1136,772,'WT: H2O v ABX',{size:27.5,bold:true});
  txt(1390,772,'SOD: H2O v ABX',{size:27.5,bold:true});
  [[1017,1254],[1271,1509]].forEach(s=>shapes.push({type:'line',xref:'paper',yref:'paper',x0:s[0]/W,x1:s[1]/W,y0:1-790/H,y1:1-790/H,line:{color:'#000',width:2}}));
  // LDA colour bar
  const barScale=[];eBarColors.forEach((c,i)=>{barScale.push([i/9,c],[(i+1)/9,c]);});
  const cb=addAxes([1623,724.4,1789,770],
    line({range:[-5.66,5.66],tickvals:[-4,-2,0,2,4],showticklabels:false,ticklen:10,mirror:true}),
    {range:[-.5,.5],showline:true,mirror:true,linecolor:'#000',linewidth:2,ticks:'',showticklabels:false});
  data.push(Object.assign({type:'heatmap',x:eBarX,y:[0],z:[eBarX.map((_,i)=>i)],zmin:-.5,zmax:8.5,colorscale:barScale,showscale:false,hoverinfo:'skip'},cb));
  txt(1634,799,'\u22124',{size:30});txt(1705.7,799,'0',{size:30});txt(1764,799,'4',{size:30});
  txt(1704,706,'LDA',{size:32,bold:true});
  txt(1589,747,'H<sub>2</sub>O',{size:32,bold:true,color:'#2166ac'});
  txt(1826,747,'ABX',{size:32,bold:true,color:'#b2182b'});
  txt(1024,727,'e',{size:42,bold:true});
}
// panel f
{
  const sty={'SOD1-H2O':['#000','triangle-down',9,2.5],'WT-H2O':['#a8a8a8','circle',11,3.5],'SOD1-Abx':['#e8351e','circle',11,3],'WT-Abx':['#f59a1b','triangle-up',11,3]};
  function series(a,name,y,e,lo){
    const s=sty[name];
    const err=lo?{type:'data',symmetric:false,array:e.map((v,i)=>v-y[i]),arrayminus:lo.map((v,i)=>y[i]-v),color:s[0],thickness:1.6,width:5}
                :{type:'data',array:e,color:s[0],thickness:1.6,width:5};
    data.push(Object.assign({type:'scatter',mode:'lines+markers',name,x:fDays,y,cliponaxis:false,error_y:err,line:{color:s[0],width:s[3]},marker:{color:s[0],symbol:s[1],size:s[2]},hoverinfo:'skip'},a));
  }
  function panel(r,left,x40,x120,right,yopt){
    const u=(x120-x40)/80;
    return addAxes(r,line({range:[40-(x40-left)/u,120+(right-x120)/u],tickvals:[40,60,80,100,120],ticklen:8,tickfont:bf(20),layer:'below traces'}),line(Object.assign({ticklen:8,tickfont:bf(20),layer:'below traces'},yopt)));
  }
  let a=panel([356,1940.4,655.6,2140],356,401.8,642,655.6,{range:[0,30],tickvals:[0,10,20,30]});
  series(a,'SOD1-H2O',fMuriSod,fMuriSodE);series(a,'WT-H2O',fMuriWt,fMuriWtE);series(a,'SOD1-Abx',fMuriSodA,fMuriSodAE);series(a,'WT-Abx',fMuriWtA,fMuriWtAE);
  a=panel([722.6,1956,1006,2140],722.6,765,988.5,1006,{range:[0,4],tickvals:[0,1,2,3,4]});
  series(a,'SOD1-H2O',fLachSod,fLachSodE);series(a,'WT-H2O',fLachWt,fLachWtE);series(a,'SOD1-Abx',fLachSodA,fLachSodAE);series(a,'WT-Abx',fLachWtA,fLachWtAE);
  a=panel([1089.7,1940,1388.6,2140],1089.7,1134.9,1373.7,1388.6,{range:[0,2.5],tickvals:[0,.5,1,1.5,2,2.5],tickformat:'.1f'});
  series(a,'SOD1-H2O',fPseuSod,fPseuSodE);series(a,'WT-H2O',fPseuWt,fPseuWtE);series(a,'SOD1-Abx',fPseuSodA,fPseuSodAE);series(a,'WT-Abx',fPseuWtA,fPseuWtAE);
  a=panel([1471.4,1940,1768.6,2140],1471.4,1516,1755.4,1768.6,{type:'log',range:[-3,1],tickvals:[.001,.01,.1,1,10],ticktext:['0.001','0.01','0.1','1','10']});
  series(a,'SOD1-H2O',fAkkSod,fAkkSodHi,fAkkSodLo);series(a,'WT-H2O',fAkkWt,fAkkWtHi,fAkkWtLo);series(a,'SOD1-Abx',fAkkSodA,fAkkSodAHi,fAkkSodALo);series(a,'WT-Abx',fAkkWtA,fAkkWtAHi,fAkkWtALo);
  const lower=[[[356,2222,655,2421],356,401.8,641,655,{range:[0,100],tickvals:[0,20,40,60,80,100]},fRalSodA,fRalSodAE,fRalWtA,fRalWtAE],
    [[717.5,2222,1015,2421],717.5,762.8,1002,1015,{range:[0,30],tickvals:[0,10,20,30]},fStrSodA,fStrSodAE,fStrWtA,fStrWtAE],
    [[1072.6,2222,1370,2421],1072.6,1117.7,1357,1370,{range:[0,10],tickvals:[0,2,4,6,8,10]},fWeiSodA,fWeiSodAE,fWeiWtA,fWeiWtAE],
    [[1469.7,2222,1767,2421],1469.7,1514.9,1754,1767,{range:[0,6],tickvals:[0,2,4,6]},fMicSodA,fMicSodAE,fMicWtA,fMicWtAE]];
  lower.forEach(l=>{const b=panel(l[0],l[1],l[2],l[3],l[4],l[5]);
    series(b,'SOD1-Abx',l[6],l[7]);series(b,'WT-Abx',l[8],l[9]);series(b,'SOD1-H2O',fZero,fZeroE);series(b,'WT-H2O',fZero,fZeroE);});
  // legend
  const lg=addAxes([60,2085,120,2275],Object.assign({},hid,{range:[60,120]}),Object.assign({},hid,{range:[2275,2085]}));
  [['WT-H2O',2105],['WT-Abx',2154],['SOD1-H2O',2209],['SOD1-Abx',2257]].forEach(r=>{const s=sty[r[0]];
    data.push(Object.assign({type:'scatter',mode:'lines+markers',x:[70,90,110],y:[r[1],r[1],r[1]],line:{color:s[0],width:4},marker:{color:s[0],symbol:s[1],size:[0,r[0]==='SOD1-H2O'?14:16,0]},hoverinfo:'skip'},lg));
    txt(125.6,r[1],r[0],{size:28,anchor:'left'});});
  txt(23,1944,'f',{size:42,bold:true});
  [[499,1923,'Muribaculaceae'],[503,1957,'PAC000186_g'],[859,1923,'Lachnospiraceae'],[863,1957,'PAC000664_g'],[1251,1939,'Pseudoflavonifractor'],[1639,1939,'Akkermansia'],[518,2209,'Ralstonia'],[886,2209,'Streptococcus'],[1233,2209,'Weisella'],[1645,2209,'Microbacteriaceae']]
    .forEach(t=>txt(t[0],t[1],t[2],{size:27,bold:true}));
  txt(310.6,2035,'Relative Abundance (%)',{size:21,bold:true,angle:-90});
  txt(303,2320,'Relative Abundance (%)',{size:21,bold:true,angle:-90});
  [516.6,878,1233,1630].forEach(x=>txt(x,2471,'Age (day)',{size:24,bold:true}));
}
Object.assign(layout,{width:W,height:H,margin:{l:0,r:0,t:0,b:0},paper_bgcolor:'#fff',plot_bgcolor:'rgba(0,0,0,0)',showlegend:false,barmode:'overlay',annotations,shapes,font:{family:FONT,color:'#000'}});
Plotly.newPlot('g',data,layout,{staticPlot:true,displayModeBar:false});
</script></body></html>
